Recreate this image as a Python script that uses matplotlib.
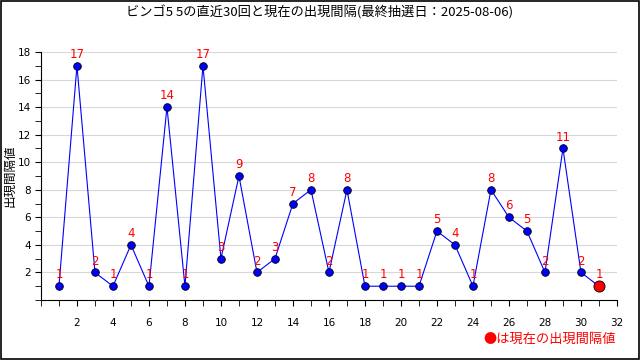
import matplotlib
matplotlib.use("Agg")
import matplotlib.pyplot as plt
from matplotlib.ticker import MultipleLocator
from matplotlib.patches import Rectangle

plt.rcParams['font.family'] = ['Noto Sans CJK JP', 'DejaVu Sans']

draws = list(range(1, 32))
intervals = [1, 17, 2, 1, 4, 1, 14, 1, 17, 3, 9, 2, 3, 7, 8, 2, 8, 1, 1, 1,
             1, 5, 4, 1, 8, 6, 5, 2, 11, 2, 1]
title = "ビンゴ5 5の直近30回と現在の出現間隔(最終抽選日：2025-08-06)"
ylabel = "出現間隔値"
note = "●は現在の出現間隔値"

fig = plt.figure(figsize=(6.4, 3.6), dpi=100)
ax = fig.add_axes([0.064, 0.1667, 0.9, 0.689])

ax.plot(draws, intervals, color='blue', lw=0.8, zorder=2)
ax.plot(draws[:-1], intervals[:-1], 'o', color='blue', mec='black', mew=0.6,
        ms=5.5, zorder=3)
ax.plot(draws[-1:], intervals[-1:], 'o', color='red', mec='black', mew=0.6,
        ms=8, zorder=3)
for x, y in zip(draws, intervals):
    ax.annotate(str(y), (x, y), xytext=(0, 3.5), textcoords='offset points',
                ha='center', va='bottom', color='red', fontsize=8.5,
                family='DejaVu Sans')

ax.set_xlim(0, 32)
ax.set_ylim(0, 18)
ax.xaxis.set_minor_locator(MultipleLocator(1))
ax.yaxis.set_minor_locator(MultipleLocator(1))
ax.set_xticks(range(2, 33, 2))
ax.set_yticks(range(2, 19, 2))
ax.tick_params(axis='both', which='both', direction='out', labelsize=7.5,
               color='black', labelfontfamily='DejaVu Sans')
ax.tick_params(axis='x', which='both', length=4, pad=9)
ax.tick_params(axis='y', which='both', length=4, pad=3)
ax.grid(axis='y', color='#d8d8d8', lw=0.8)
ax.set_axisbelow(True)
for s in ['top', 'right']:
    ax.spines[s].set_visible(False)

ax.set_ylabel(ylabel, fontsize=9)
ax.yaxis.set_label_coords(-0.042, 0.5)
fig.text(0.5, 0.965, title, ha='center', va='center', fontsize=9.5)
fig.text(0.963, 0.058, note, ha='right', va='center', color='red', fontsize=9.5)

fig.patches.append(Rectangle((0.001, 0.002), 0.997, 0.995, transform=fig.transFigure,
                             fill=False, ec='black', lw=1.2))

fig.savefig("out.png", dpi=100)
